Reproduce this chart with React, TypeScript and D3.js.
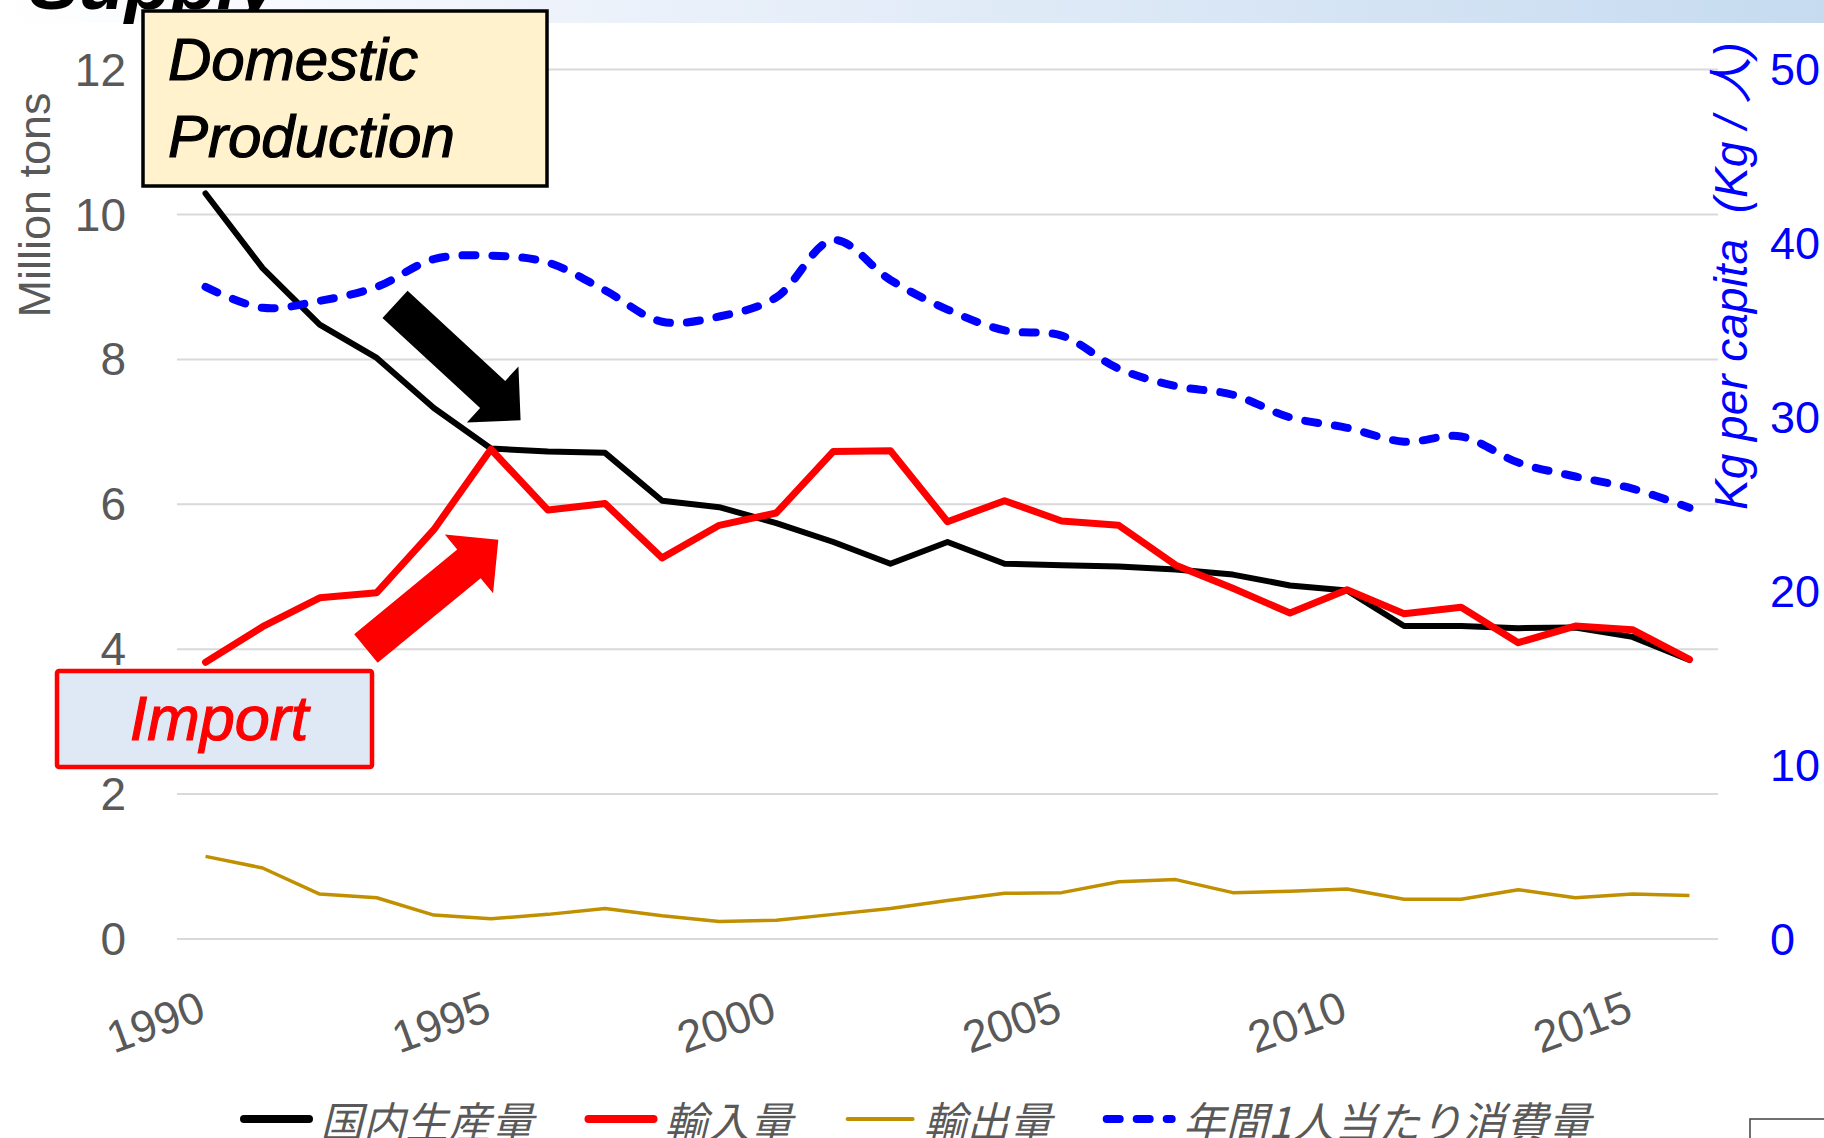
import { useEffect } from "react";
import * as d3 from "d3";

// Rice supply in Japan, 1990-2016
const years = [
  1990, 1991, 1992, 1993, 1994, 1995, 1996, 1997, 1998, 1999, 2000, 2001, 2002, 2003,
  2004, 2005, 2006, 2007, 2008, 2009, 2010, 2011, 2012, 2013, 2014, 2015, 2016,
];
// million tons (left axis)
const domestic = [
  10.29, 9.26, 8.48, 8.02, 7.33, 6.77, 6.73, 6.71, 6.05, 5.96, 5.74, 5.48, 5.18, 5.48,
  5.18, 5.16, 5.14, 5.1, 5.03, 4.88, 4.81, 4.32, 4.32, 4.29, 4.3, 4.17, 3.85,
];
const imports = [
  3.82, 4.31, 4.71, 4.78, 5.65, 6.76, 5.92, 6.01, 5.26, 5.71, 5.88, 6.73, 6.74, 5.76,
  6.05, 5.77, 5.71, 5.16, 4.84, 4.5, 4.82, 4.49, 4.58, 4.09, 4.32, 4.27, 3.86,
];
const exports = [
  1.14, 0.98, 0.62, 0.57, 0.33, 0.28, 0.34, 0.42, 0.32, 0.24, 0.26, 0.34, 0.42, 0.53,
  0.63, 0.64, 0.79, 0.82, 0.64, 0.66, 0.69, 0.55, 0.55, 0.68, 0.57, 0.62, 0.6,
];
// kg per capita (right axis)
const perCapita = [
  37.5, 36.3, 36.7, 37.5, 39.1, 39.3, 38.9, 37.3, 35.5, 35.8, 36.9, 40.2, 37.9, 36.2,
  35.0, 34.7, 32.8, 31.8, 31.3, 30.0, 29.4, 28.6, 28.9, 27.4, 26.6, 25.9, 24.8,
];

const leftTicks = [0, 2, 4, 6, 8, 10, 12];
const rightTicks = [0, 10, 20, 30, 40, 50];
const yearLabels = [1990, 1995, 2000, 2005, 2010, 2015];

const legendItems = [
  { label: "国内生産量", color: "#000000", width: 8, dash: null, em: 5 },
  { label: "輸入量", color: "#ff0000", width: 8, dash: null, em: 3 },
  { label: "輸出量", color: "#c09000", width: 4, dash: null, em: 3 },
  { label: "年間1人当たり消費量", color: "#0000ff", width: 8, dash: "13 17", em: 9.5 },
];

const GRAY = "#595959";
const LATIN = "'Liberation Sans', Arial, 'Noto Sans CJK JP', sans-serif";
const CJK = "'Noto Sans CJK JP', 'Noto Sans CJK SC', sans-serif";

export default function App() {
  useEffect(() => {
    document.body.style.margin = "0";
  }, []);

  const W = 1824;
  const H = 1138;
  const plot = { left: 177, right: 1718, top: 69.6, bottom: 939 };

  const x = d3.scalePoint<number>().domain(years).range([plot.left, plot.right]).padding(0.5);
  const xYear = d3
    .scaleLinear()
    .domain([years[0], years[years.length - 1]])
    .range([x(years[0])!, x(years[years.length - 1])!]);
  const yL = d3.scaleLinear().domain([0, 12]).range([plot.bottom, plot.top]);
  const yR = d3.scaleLinear().domain([0, 50]).range([plot.bottom, plot.top]);

  const lineL = d3
    .line<number>()
    .x((_, i) => x(years[i])!)
    .y((d) => yL(d));
  const lineR = d3
    .line<number>()
    .x((_, i) => x(years[i])!)
    .y((d) => yR(d))
    .curve(d3.curveCatmullRom.alpha(0.5));

  // block arrow, ends given in data units (year, million tons)
  const blockArrow = (tail: [number, number], tip: [number, number]) => {
    const sw = 37, hw = 76, hl = 38;
    const t = [xYear(tail[0]), yL(tail[1])];
    const p = [xYear(tip[0]), yL(tip[1])];
    const len = Math.hypot(p[0] - t[0], p[1] - t[1]);
    const u = [(p[0] - t[0]) / len, (p[1] - t[1]) / len];
    const n = [-u[1], u[0]];
    const b = [p[0] - u[0] * hl, p[1] - u[1] * hl];
    const pts = [
      [t[0] + (n[0] * sw) / 2, t[1] + (n[1] * sw) / 2],
      [b[0] + (n[0] * sw) / 2, b[1] + (n[1] * sw) / 2],
      [b[0] + (n[0] * hw) / 2, b[1] + (n[1] * hw) / 2],
      p,
      [b[0] - (n[0] * hw) / 2, b[1] - (n[1] * hw) / 2],
      [b[0] - (n[0] * sw) / 2, b[1] - (n[1] * sw) / 2],
      [t[0] - (n[0] * sw) / 2, t[1] - (n[1] * sw) / 2],
    ];
    return "M" + pts.map((q) => q.join(",")).join("L") + "Z";
  };

  // legend layout
  const legFont = 42.7;
  let lx = 240;
  const legend = legendItems.map((it) => {
    const pos = { ...it, x0: lx, tx: lx + 80 };
    lx = pos.tx + it.em * legFont + 51;
    return pos;
  });

  return (
    <svg width={W} height={H} style={{ display: "block", background: "#fff" }}>
      <defs>
        <linearGradient id="band" x1="0" x2="1" y1="0" y2="0">
          <stop offset="0" stopColor="#ffffff" />
          <stop offset="0.3" stopColor="#eef3fb" />
          <stop offset="1" stopColor="#c6dbf0" />
        </linearGradient>
      </defs>

      {/* header band and cut-off title */}
      <rect x={0} y={0} width={W} height={23} fill="url(#band)" />
      <text
        x={29}
        y={9}
        fontFamily={LATIN}
        fontSize={75}
        fontWeight="bold"
        fontStyle="italic"
        fill="#000"
      >
        Supply
      </text>

      {/* gridlines */}
      {leftTicks.map((t) => (
        <line
          key={t}
          x1={plot.left}
          x2={plot.right}
          y1={yL(t)}
          y2={yL(t)}
          stroke="#d9d9d9"
          strokeWidth={2}
        />
      ))}

      {/* left axis */}
      {leftTicks.map((t) => (
        <text
          key={t}
          x={126}
          y={yL(t)}
          textAnchor="end"
          dominantBaseline="central"
          fontFamily={LATIN}
          fontSize={46}
          fill={GRAY}
        >
          {t}
        </text>
      ))}
      <text
        transform="translate(34,205) rotate(-90)"
        textAnchor="middle"
        dominantBaseline="central"
        fontFamily={LATIN}
        fontSize={45}
        fill={GRAY}
      >
        Million tons
      </text>

      {/* right axis */}
      {rightTicks.map((t) => (
        <text
          key={t}
          x={1770}
          y={yR(t)}
          dominantBaseline="central"
          fontFamily={LATIN}
          fontSize={45}
          fill="#0000ff"
        >
          {t}
        </text>
      ))}
      <text
        transform="translate(1731,276) rotate(-90)"
        textAnchor="middle"
        dominantBaseline="central"
        fontFamily={LATIN}
        fontSize={46}
        fontStyle="italic"
        fill="#0000ff"
        style={{ whiteSpace: "pre" }}
      >
        {"Kg per capita  (Kg / 人)"}
      </text>

      {/* x axis labels */}
      {yearLabels.map((yr) => (
        <text
          key={yr}
          transform={`translate(${x(yr)! - 50},1022) rotate(-20)`}
          textAnchor="middle"
          dominantBaseline="central"
          fontFamily={LATIN}
          fontSize={45}
          fill={GRAY}
        >
          {yr}
        </text>
      ))}

      {/* series */}
      <path d={lineL(domestic)!} fill="none" stroke="#000" strokeWidth={6} strokeLinejoin="round" strokeLinecap="round" />
      <path d={lineL(imports)!} fill="none" stroke="#ff0000" strokeWidth={7} strokeLinejoin="round" strokeLinecap="round" />
      <path d={lineL(exports)!} fill="none" stroke="#c09000" strokeWidth={3.5} strokeLinejoin="round" />
      <path
        d={lineR(perCapita)!}
        fill="none"
        stroke="#0000ff"
        strokeWidth={8}
        strokeDasharray="13 17"
        strokeLinecap="round"
        strokeLinejoin="round"
      />

      {/* annotations */}
      <path d={blockArrow([1993.32, 8.76], [1995.52, 7.16])} fill="#000" />
      <path d={blockArrow([1992.81, 4.01], [1995.13, 5.51])} fill="#ff0000" />

      <rect x={143} y={11} width={404} height={175} fill="#fff2cc" stroke="#000" strokeWidth={3.5} />
      <text fontFamily={LATIN} fontSize={60} fontStyle="italic" fill="#000" stroke="#000" strokeWidth={1.2}>
        <tspan x={168} y={80}>Domestic</tspan>
        <tspan x={168} y={157}>Production</tspan>
      </text>

      <rect x={57} y={671} width={315} height={96} rx={2} fill="#dee9f5" stroke="#ff0000" strokeWidth={4.5} />
      <text
        x={219}
        y={740}
        textAnchor="middle"
        fontFamily={LATIN}
        fontSize={63}
        fontStyle="italic"
        fill="#ff0000"
        stroke="#ff0000"
        strokeWidth={1.2}
      >
        Import
      </text>

      {/* legend */}
      {legend.map((it) => (
        <g key={it.label}>
          <line
            x1={it.x0 + 4}
            x2={it.x0 + 69}
            y1={1119}
            y2={1119}
            stroke={it.color}
            strokeWidth={it.width}
            strokeLinecap="round"
            strokeDasharray={it.dash ?? undefined}
          />
          <text
            x={it.tx}
            y={1119}
            dominantBaseline="central"
            fontFamily={CJK}
            fontSize={legFont}
            fontStyle="italic"
            fill={GRAY}
          >
            {it.label}
          </text>
        </g>
      ))}

      {/* page number box, cut off */}
      <rect x={1750} y={1119} width={90} height={40} fill="#fff" stroke="#404040" strokeWidth={1.5} />
    </svg>
  );
}
